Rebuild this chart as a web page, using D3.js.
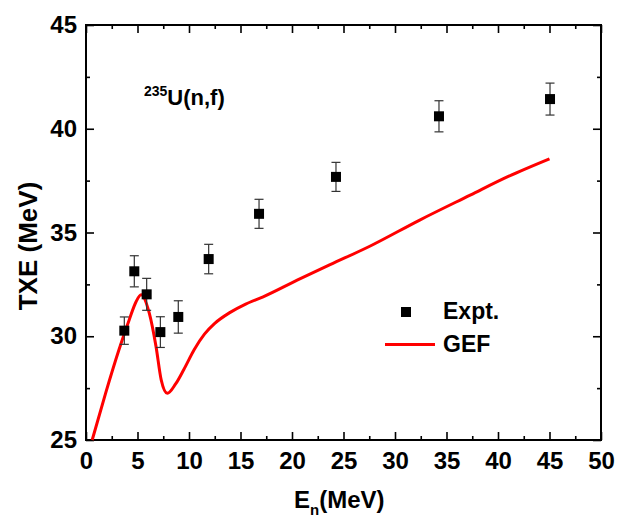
<!DOCTYPE html>
<html>
<head>
<meta charset="utf-8">
<script src="https://cdn.jsdelivr.net/npm/d3@7"></script>
<style>
  html, body { margin: 0; padding: 0; background: #fff; }
  svg { display: block; }
  text { font-family: "Liberation Sans", Arial, sans-serif; font-weight: bold; fill: #000; }
</style>
</head>
<body>
<svg id="chart" width="621" height="524"></svg>
<script>
// ---- Data ----
const exptE   = [3.72, 4.69, 5.89, 7.22, 8.96, 11.91, 16.8, 24.27, 34.27, 45.05];
const exptTXE = [30.27, 33.13, 32.02, 30.2, 30.93, 33.72, 35.9, 37.68, 40.6, 41.43];
const exptErr = [0.66, 0.75, 0.77, 0.74, 0.78, 0.71, 0.7, 0.7, 0.75, 0.77];

const gefE   = [0.6, 1.9, 3.2, 4.2, 4.85, 5.35, 6.15, 6.8, 7.3, 7.9, 8.7, 9.5, 10.5, 11.5, 12.5, 14.0, 15.5, 17.2, 20.5, 23.7, 27.6, 32.4, 37.3, 41.0, 45.0];
const gefTXE = [25.0, 27.25, 29.35, 30.8, 31.65, 32.0, 31.1, 29.5, 27.9, 27.25, 27.7, 28.4, 29.35, 30.1, 30.62, 31.15, 31.55, 31.9, 32.7, 33.45, 34.35, 35.6, 36.8, 37.7, 38.55];

const xMajorTicks = [0, 5, 10, 15, 20, 25, 30, 35, 40, 45, 50];
const yMajorTicks = [25, 30, 35, 40, 45];

// ---- Layout ----
const svg = d3.select("#chart");
const L = 86, R = 601, T = 25, B = 440;
const x = d3.scaleLinear().domain([0, 50]).range([L, R]);
const y = d3.scaleLinear().domain([25, 45]).range([B, T]);

const xMinor = d3.range(2.5, 50, 5);
const yMinor = d3.range(27.5, 45, 5);

function styleAxis(g) {
  g.select(".domain").remove();
  g.selectAll(".tick line").attr("stroke", "#000").attr("stroke-width", 1.6);
  g.selectAll(".tick text").style("font-size", "24px").style("font-weight", "bold")
    .style("font-family", '"Liberation Sans", Arial, sans-serif').attr("fill", "#000");
}

// bottom
svg.append("g").attr("transform", `translate(0,${B})`)
  .call(d3.axisBottom(x).tickValues(xMajorTicks).tickSizeInner(-8).tickSizeOuter(0).tickPadding(12).tickFormat(d3.format("d")))
  .call(styleAxis);
svg.append("g").attr("transform", `translate(0,${B})`)
  .call(d3.axisBottom(x).tickValues(xMinor).tickSizeInner(-4).tickSizeOuter(0).tickFormat(""))
  .call(styleAxis);
// top
svg.append("g").attr("transform", `translate(0,${T})`)
  .call(d3.axisTop(x).tickValues(xMajorTicks).tickSizeInner(-8).tickSizeOuter(0).tickFormat(""))
  .call(styleAxis);
svg.append("g").attr("transform", `translate(0,${T})`)
  .call(d3.axisTop(x).tickValues(xMinor).tickSizeInner(-4).tickSizeOuter(0).tickFormat(""))
  .call(styleAxis);
// left
svg.append("g").attr("transform", `translate(${L},0)`)
  .call(d3.axisLeft(y).tickValues(yMajorTicks).tickSizeInner(-8).tickSizeOuter(0).tickPadding(9).tickFormat(d3.format("d")))
  .call(styleAxis);
svg.append("g").attr("transform", `translate(${L},0)`)
  .call(d3.axisLeft(y).tickValues(yMinor).tickSizeInner(-4).tickSizeOuter(0).tickFormat(""))
  .call(styleAxis);
// right
svg.append("g").attr("transform", `translate(${R},0)`)
  .call(d3.axisRight(y).tickValues(yMajorTicks).tickSizeInner(-8).tickSizeOuter(0).tickFormat(""))
  .call(styleAxis);
svg.append("g").attr("transform", `translate(${R},0)`)
  .call(d3.axisRight(y).tickValues(yMinor).tickSizeInner(-4).tickSizeOuter(0).tickFormat(""))
  .call(styleAxis);

// frame
svg.append("rect").attr("x", L).attr("y", T).attr("width", R - L).attr("height", B - T)
  .attr("fill", "none").attr("stroke", "#000").attr("stroke-width", 2);

// ---- GEF curve ----
const gef = gefE.map((e, i) => [e, gefTXE[i]]);
svg.append("path").datum(gef)
  .attr("fill", "none").attr("stroke", "#ff0000").attr("stroke-width", 3)
  .attr("stroke-linejoin", "round")
  .attr("d", d3.line().x(d => x(d[0])).y(d => y(d[1])).curve(d3.curveMonotoneX));

// ---- Expt points ----
const expt = exptE.map((e, i) => ({ e, v: exptTXE[i], err: exptErr[i] }));
const eg = svg.append("g");
const cap = 4.5;
expt.forEach(d => {
  const cx = x(d.e), y1 = y(d.v + d.err), y2 = y(d.v - d.err);
  eg.append("line").attr("x1", cx).attr("x2", cx).attr("y1", y1).attr("y2", y2).attr("stroke", "#333").attr("stroke-width", 1.2);
  eg.append("line").attr("x1", cx - cap).attr("x2", cx + cap).attr("y1", y1).attr("y2", y1).attr("stroke", "#333").attr("stroke-width", 1.2);
  eg.append("line").attr("x1", cx - cap).attr("x2", cx + cap).attr("y1", y2).attr("y2", y2).attr("stroke", "#333").attr("stroke-width", 1.2);
});
const ms = 10;
eg.selectAll("rect.pt").data(expt).enter().append("rect").attr("class", "pt")
  .attr("x", d => x(d.e) - ms / 2).attr("y", d => y(d.v) - ms / 2)
  .attr("width", ms).attr("height", ms).attr("fill", "#000");

// ---- Axis titles ----
const xt = svg.append("text").attr("x", 294).attr("y", 508).style("font-size", "24px");
xt.append("tspan").text("E");
xt.append("tspan").attr("dy", 7).style("font-size", "15px").text("n");
xt.append("tspan").attr("dy", -7).text("(MeV)");

svg.append("text").attr("transform", "translate(37,246) rotate(-90)")
  .attr("text-anchor", "middle").style("font-size", "26px").text("TXE (MeV)");

// ---- Annotation ----
const an = svg.append("text").attr("x", 144).attr("y", 105).style("font-size", "22px");
an.append("tspan").attr("dy", -9).style("font-size", "14px").text("235");
an.append("tspan").attr("dy", 9).text("U(n,f)");

// ---- Legend ----
svg.append("rect").attr("x", 406 - 5).attr("y", 312 - 5).attr("width", 10).attr("height", 10).attr("fill", "#000");
svg.append("text").attr("x", 443).attr("y", 319).style("font-size", "23px").text("Expt.");
svg.append("line").attr("x1", 385).attr("x2", 435).attr("y1", 344.5).attr("y2", 344.5)
  .attr("stroke", "#ff0000").attr("stroke-width", 3);
svg.append("text").attr("x", 443).attr("y", 352).style("font-size", "23px").text("GEF");
</script>
</body>
</html>
